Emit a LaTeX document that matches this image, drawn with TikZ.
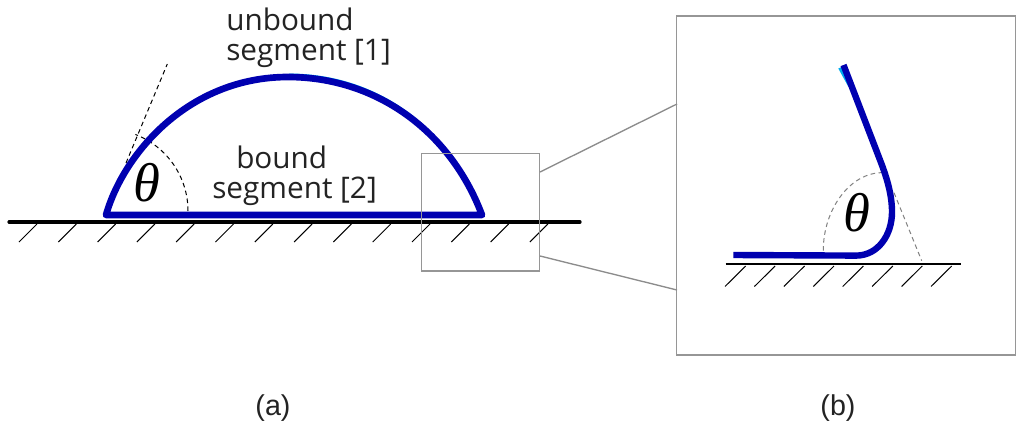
\documentclass[tikz,border=0pt]{standalone}
\usepackage{fontspec}
\setmainfont{Open Sans}
\newfontfamily\capfont{Liberation Sans}
\newfontfamily\thetafont{Liberation Serif}[ItalicFont={Liberation Serif Italic}]
\definecolor{filmblue}{RGB}{0,0,176}
\definecolor{framegray}{RGB}{150,150,150}
\definecolor{leadgray}{RGB}{140,140,140}
\definecolor{dashgray}{RGB}{130,130,130}
\definecolor{labtext}{RGB}{35,35,35}
\tikzset{
  px/.style={x=0.75pt,y=-0.75pt},
  ground/.style={draw=black,line width=2.4pt,line cap=round},
  groundthin/.style={draw=black,line width=1.5pt},
  hatch/.style={draw=black,line width=0.75pt},
  film/.style={draw=filmblue,line width=5pt,line cap=round,line join=round},
  filmend/.style={draw=filmblue,line width=4.8pt,line cap=butt,line join=round},
  frame/.style={draw=framegray,line width=1pt},
  leader/.style={draw=leadgray,line width=1pt},
  dashk/.style={draw=black,line width=0.75pt,dash pattern=on 3.4pt off 2.6pt},
  dashg/.style={draw=dashgray,line width=0.75pt,dash pattern=on 3.4pt off 2.6pt},
  lab/.style={inner sep=0pt,align=left,anchor=base west,font=\fontsize{22.3}{22.5}\selectfont,text=labtext},
  capt/.style={inner sep=0pt,font=\capfont\fontsize{21.5}{24}\selectfont,text=labtext},
  thetalab/.style={inner sep=0pt,font=\thetafont\itshape\fontsize{41}{41}\selectfont}
}
\begin{document}
\begin{tikzpicture}[px]
\useasboundingbox[fill=white] (0,0) rectangle (1024,432);
% left panel
\foreach \i in {0,...,13}{\draw[hatch] ({37+39.3*\i},224) -- ({19+39.3*\i},242);}
\draw[ground] (9,222) -- (580,222);
\coordinate (A) at (106,215);
\coordinate (B) at (482,215);
\draw[dashk] (126,163) -- (167.3,64);
\draw[dashk] (188,211) arc[start angle=0,end angle=-69,radius=82];
\draw[draw=cyan,line width=1pt,shift={(1,-2.8)}] (288,77) .. controls (375,77) and (450,130) .. (B);
\draw[film] (A) .. controls (124,152) and (190,77) .. (288,77) .. controls (375,77) and (450,130) .. (B) -- cycle;
\node[lab] (u1) at (226,60) {unbound\\segment [1]};
\node[lab] (b1) at (212,198) {\hspace{18pt}bound\\segment [2]};
\node[thetalab] (t1) at (147,183) {θ};
% zoom box and leaders
\node[frame,minimum width=88.5pt,minimum height=88.1pt,inner sep=0pt] (small) at (480.5,212.3) {};
\node[frame,minimum width=254pt,minimum height=254.2pt,inner sep=0pt] (big) at (846,185.5) {};
\coordinate (s1) at (540,172);\coordinate (b1c) at (677,104);
\coordinate (s2) at (540,256);\coordinate (b2c) at (677,290);
\draw[leader] (s1) -- (b1c);
\draw[leader] (s2) -- (b2c);
% inset
\foreach \i in {0,...,7}{\draw[hatch] ({745.7+29.43*\i},266) -- ({725+29.43*\i},286.5);}
\draw[groundthin] (725.7,264) -- (960.7,264);
\draw[dashg] (823.3,250.7) .. controls (823,210) and (850,172) .. (883,172.7);
\draw[dashg] (894,192.7) -- (921.7,260.7);
\fill[cyan] (838.3,68.5) -- (843,66.5) -- (848.5,87) -- cycle;
\draw[filmend] (733.3,255) -- (856,255.6) .. controls (878,255.6) and (892,235) .. (892,212) .. controls (892,195) and (887,178) .. (880,160) -- (843.5,65);
\node[thetalab] (t2) at (856.5,213) {θ};
\node[capt] (ca) at (273,408) {(a)};
\node[capt] (cb) at (838,408) {(b)};
\end{tikzpicture}
\end{document}
